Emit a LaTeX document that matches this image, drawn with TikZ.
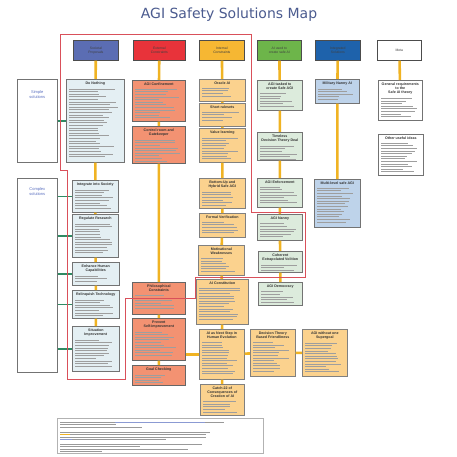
\documentclass[tikz,border=0pt]{standalone}
\usepackage{fontspec}
\setmainfont{Liberation Sans}
\newfontfamily\titlefont{DejaVu Sans}
\usetikzlibrary{calc}
\definecolor{hA}{HTML}{5B6DB3}
\definecolor{hB}{HTML}{E8333A}
\definecolor{hC}{HTML}{F6B733}
\definecolor{hD}{HTML}{6DB54A}
\definecolor{hE}{HTML}{1E62AB}
\definecolor{cA}{HTML}{E4EFF3}
\definecolor{cB}{HTML}{F39272}
\definecolor{cC}{HTML}{FBD28E}
\definecolor{cD}{HTML}{DCEBDC}
\definecolor{cE}{HTML}{BED3EA}
\definecolor{cy}{HTML}{F0B323}
\definecolor{cg}{HTML}{2F8A63}
\definecolor{cr}{HTML}{D9505A}
\definecolor{ttlc}{HTML}{4B5B8F}
\definecolor{sblue}{HTML}{5A6FC0}
\newcommand\abox[8]{%
 \node[#2, anchor=north west, minimum width=#5pt, minimum height=#6pt] (#1) at (#3,#4) {};
 \node[ttl, anchor=north] (#1t) at ($(#1.north)+(0,2.5)$) {#7};
 \foreach \i in {1,...,#8}{%
   \pgfmathsetmacro\L{0.5+0.45*rnd}%
   \draw[txt] ($(#1.west |- #1t.south)+(3,{1+\i*2.6})$) -- ++({\L*(#5-6)},0);
 }%
}
\begin{document}
\begin{tikzpicture}[x=1pt,y=-1pt,
 hdr/.style={draw=black!70, line width=0.7pt, minimum height=20pt, inner sep=0pt, align=center, font=\fontsize{3.4}{4}\selectfont, text=black!75},
 bx/.style={draw=black!55, line width=0.6pt, inner sep=0pt},
 b1/.style={bx, fill=cA},
 b2/.style={bx, fill=cB, draw=black!60},
 b3/.style={bx, fill=cC, draw=black!50},
 b4/.style={bx, fill=cD},
 b5/.style={bx, fill=cE},
 b6/.style={bx, fill=white},
 ttl/.style={font=\fontsize{3.6}{4.2}\selectfont\bfseries, align=center, inner sep=0pt, text=black!80},
 txt/.style={line width=0.7pt, draw=black!38},
 yl/.style={line width=2.6pt, draw=cy},
 gl/.style={line width=1.6pt, draw=cg},
 rl/.style={line width=0.8pt, draw=cr},
]
\useasboundingbox[fill=white] (0,0) rectangle (457,457);
\pgfmathsetseed{7}
% title
\node[font=\titlefont\fontsize{14}{16}\selectfont, text=ttlc] (title) at (229,15) {AGI Safety Solutions Map};
% headers
\node[hdr, fill=hA, minimum width=45pt, anchor=north west] (h1) at (73,40) {Societal\\Proposals};
\node[hdr, fill=hB, minimum width=52pt, anchor=north west] (h2) at (133,40) {External\\Constraints};
\node[hdr, fill=hC, minimum width=45pt, anchor=north west] (h3) at (199,40) {Internal\\Constraints};
\node[hdr, fill=hD, minimum width=44pt, anchor=north west] (h4) at (257,40) {AI used to\\create safe AI};
\node[hdr, fill=hE, minimum width=45pt, anchor=north west] (h5) at (315,40) {Integrated\\Solutions};
\node[hdr, fill=white, minimum width=44pt, anchor=north west] (h6) at (377,40) {Meta};
% left boxes
\node[b6, anchor=north west, minimum width=40pt, minimum height=83pt] (ss) at (17,79) {};
\node[font=\fontsize{4}{4.6}\selectfont, text=sblue, align=center, anchor=north] (sst) at ($(ss.north)+(0,8)$) {Simple\\solutions};
\node[b6, anchor=north west, minimum width=40pt, minimum height=194pt] (cs) at (17,178) {};
\node[font=\fontsize{4}{4.6}\selectfont, text=sblue, align=center, anchor=north] (cst) at ($(cs.north)+(0,6)$) {Complex\\solutions};
% column 1
\abox{dn}{b1}{66}{79}{58}{83}{Do Nothing}{27}
\abox{it}{b1}{72}{180}{46}{32}{Integrate into Society}{8}
\abox{rr}{b1}{72}{214}{46}{43}{Regulate Research}{12}
\abox{eh}{b1}{72}{262}{47}{23}{Enhance Human\\Capabilities}{3}
\abox{rt}{b1}{72}{290}{47}{28}{Relinquish Technology}{7}
\abox{si}{b1}{72}{326}{47}{45}{Situation\\Improvement}{11}
% column 2
\abox{ac}{b2}{132}{80}{53}{41}{AGI Confinement}{12}
\abox{cr}{b2}{132}{126}{53}{37}{Control room and\\Gatekeeper}{9}
\abox{pc}{b2}{132}{282}{53}{32}{Philosophical\\Constraints}{6}
\abox{ps}{b2}{132}{318}{53}{42}{Prevent\\Self-improvement}{10}
\abox{gc}{b2}{132}{365}{53}{20}{Goal Checking}{4}
% column 3
\abox{oa}{b3}{199}{79}{46}{22}{Oracle AI}{4}
\abox{sr}{b3}{199}{103}{46}{23}{Short rulesets}{4}
\abox{vl}{b3}{199}{128}{46}{34}{Value learning}{9}
\abox{bu}{b3}{199}{178}{46}{30}{Bottom-Up and\\Hybrid Safe AGI}{6}
\abox{fv}{b3}{199}{213}{46}{24}{Formal Verification}{5}
\abox{mw}{b3}{198}{245}{46}{30}{Motivational\\Weaknesses}{6}
\abox{aic}{b3}{196}{279}{52}{45}{AI Constitution}{13}
\abox{ns}{b3}{199}{329}{45}{50}{AI as Next Step in\\Human Evolution}{13}
\abox{dt}{b3}{250}{329}{45}{47}{Decision Theory\\Based Friendliness}{12}
\abox{ws}{b3}{302}{329}{45}{47}{AGI without one\\Supergoal}{12}
\abox{lc}{b3}{200}{384}{44}{31}{Catch-22 of\\Consequences of\\Creation of AI}{5}
% column 4
\abox{ta}{b4}{257}{80}{45}{30}{AGI tasked to\\create Safe AGI}{6}
\abox{td}{b4}{257}{132}{45}{28}{Timeless\\Decision Theory Deal}{6}
\abox{ae}{b4}{257}{178}{45}{29}{AGI Enforcement}{7}
\abox{an}{b4}{257}{214}{45}{26}{AGI Nanny}{6}
\abox{ce}{b4}{258}{251}{44}{21}{Coherent\\Extrapolated Volition}{3}
\abox{ad}{b4}{258}{282}{44}{23}{AGI Democracy}{5}
% column 5
\abox{mn}{b5}{315}{79}{44}{24}{Military Nanny AI}{5}
\abox{ml}{b5}{314}{179}{46}{48}{Multi-level safe AGI}{14}
% column 6
\abox{gr}{b6}{378}{80}{44}{40}{General requirements\\to the\\Safe AI theory}{8}
\abox{ou}{b6}{378}{134}{45}{41}{Other useful ideas}{12}
% yellow connectors
\begin{scope}[on background layer/.style={}]
\end{scope}
\draw[yl] (h1) -- (dn) (dn) -- (it) (it) -- (rr) (rr) -- (eh) (eh) -- (rt) (rt) -- (si);
\draw[yl] (h2) -- (ac) (ac) -- (cr) (cr) -- (pc) (pc) -- (ps) (ps) -- (gc);
\draw[yl] (h3) -- (oa) (oa) -- (sr) (sr) -- (vl) (vl) -- (bu) (bu) -- (fv) (fv) -- (mw) (mw) -- (aic) (aic) -- (ns) (ns) -- (lc);
\draw[yl] (ns) -- (dt) (dt) -- (ws);
\draw[yl] (ps.east |- ns.west) -- (ns.west);
\draw[yl] (h4) -- (ta) (ta) -- (td) (td) -- (ae) (ae) -- (an) (an) -- (ce) (ce) -- (ad);
\draw[yl] (h5) -- (mn) (mn) -- (ml);
\draw[yl] (h6) -- (gr);
% green connectors
\draw[gl] (ss.east |- dn.west) -- (dn.west);
\draw[gl] (cs.east |- it.west) -- (it.west);
\draw[gl] (cs.east |- rr.west) -- (rr.west);
\draw[gl] (cs.east |- eh.west) -- (eh.west);
\draw[gl] (cs.east |- rt.west) -- (rt.west);
\draw[gl] (cs.east |- si.west) -- (si.west);
% red outline
\draw[rl] (60,34) -- (251,34) -- (251,212) -- (305,212) -- (305,277) -- (195,277) -- (195,298) -- (125,298) -- (125,379) -- (67,379) -- (67,170) -- (60,170) -- cycle;
% footer
\node[draw=black!30, line width=0.5pt, fill=white, anchor=north west, minimum width=206pt, minimum height=35pt, inner sep=0pt] (fb) at (57,418) {};
\foreach \yy/\ll in {422/164, 424.4/56, 426.8/82, 432/150, 434.4/146, 436.8/146, 439.2/106, 444/142, 446.4/80, 448.8/128, 451.2/42}{
  \draw[line width=0.55pt, draw=black!40] ($(fb.north west)+(3,{\yy-418})$) -- ++(\ll,0);
}
\draw[line width=0.55pt, draw=sblue!70] ($(fb.north west)+(58,4)$) -- ++(90,0);
\draw[line width=0.55pt, draw=cy] ($(fb.north west)+(3,16.4)$) -- ++(10,0);
\draw[line width=0.55pt, draw=sblue!70] ($(fb.north west)+(3,21.2)$) -- ++(12,0);
\end{tikzpicture}
\end{document}
